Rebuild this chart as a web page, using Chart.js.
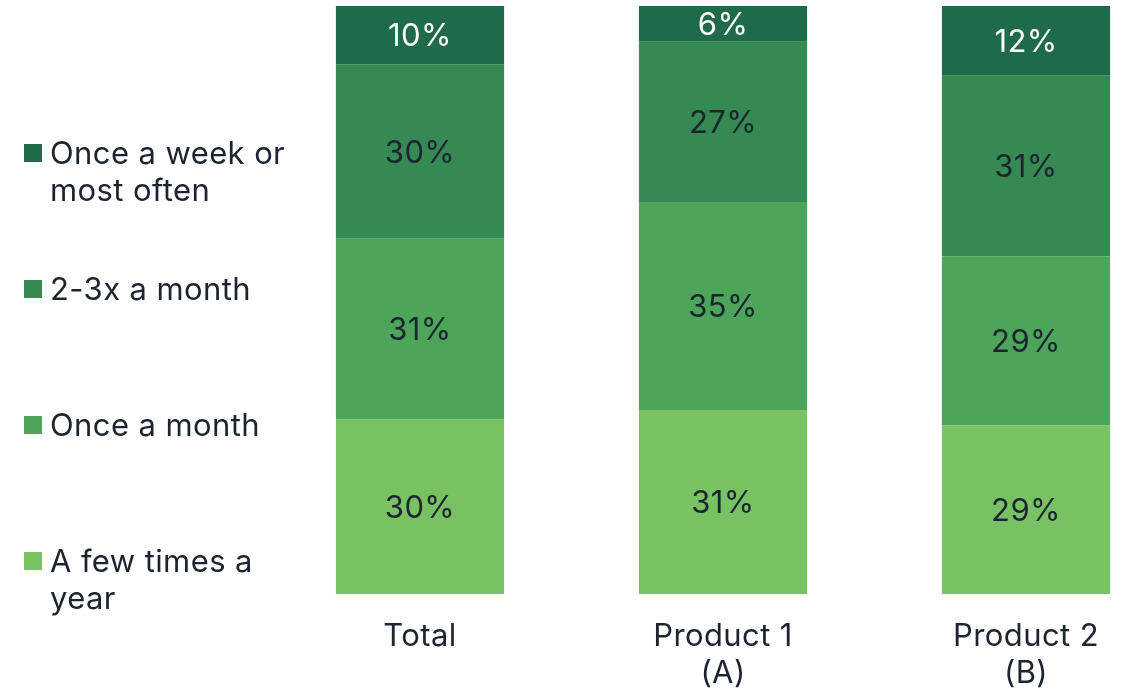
<!DOCTYPE html>
<html>
<head>
<meta charset="utf-8">
<script src="https://cdn.jsdelivr.net/npm/chart.js@4"></script>
<style>
  html, body { margin: 0; padding: 0; background: #fff; overflow: hidden; }
</style>
</head>
<body>
<canvas id="freqChart" width="1126" height="690"></canvas>
<script>
const categories = [["Total"], ["Product 1", "(A)"], ["Product 2", "(B)"]];

// bottom to top in each bar
const fewTimesYear = [30, 31, 29];
const onceMonth = [31, 35, 29];
const twoThreeMonth = [30, 27, 31];
const onceWeek = [10, 6, 12];

const seriesNames = [
  ["A few times a", "year"],
  ["Once a month"],
  ["2-3x a month"],
  ["Once a week or", "most often"]
];
const seriesColors = ["#78c263", "#4ca55a", "#348a52", "#1f6b49"];
const seriesValues = [fewTimesYear, onceMonth, twoThreeMonth, onceWeek];

const FONT = "Inter, 'Noto Sans', sans-serif";
const TEXT = "#1e2330";
const SIZE = 31;

// each bar is drawn as a share of its own column total
const columnTotals = categories.map((_, i) =>
  seriesValues.reduce((sum, s) => sum + s[i], 0)
);

const datasets = seriesValues.map((vals, k) => ({
  label: seriesNames[k].join(" "),
  data: vals.map((v, i) => v / columnTotals[i] * 100),
  raw: vals,
  backgroundColor: seriesColors[k],
  borderWidth: 0,
  barPercentage: 0.555,
  categoryPercentage: 1,
  clip: false
}));

// slight tracking on all text
const tracking = {
  id: "tracking",
  beforeDraw(chart) {
    chart.ctx.letterSpacing = "0.4px";
  }
};

const segmentLabels = {
  id: "segmentLabels",
  afterDatasetsDraw(chart) {
    const ctx = chart.ctx;
    ctx.save();
    ctx.font = SIZE + "px " + FONT;
    ctx.textAlign = "center";
    ctx.textBaseline = "middle";
    chart.data.datasets.forEach((ds, k) => {
      const meta = chart.getDatasetMeta(k);
      ctx.fillStyle = k === chart.data.datasets.length - 1 ? "#ffffff" : TEXT;
      meta.data.forEach((bar, i) => {
        ctx.fillText(ds.raw[i] + "%", bar.x, (bar.y + bar.base) / 2 + 2);
      });
    });
    ctx.restore();
  }
};

const sideLegend = {
  id: "sideLegend",
  afterDraw(chart) {
    const ctx = chart.ctx;
    const rowTop = 153;
    const rowStep = 136;
    const lineH = 37;
    ctx.save();
    ctx.font = SIZE + "px " + FONT;
    ctx.textBaseline = "middle";
    ctx.textAlign = "left";
    for (let r = 0; r < seriesNames.length; r++) {
      const k = seriesNames.length - 1 - r;
      const y = rowTop + r * rowStep;
      ctx.fillStyle = seriesColors[k];
      ctx.fillRect(24, y - 9, 18, 18);
      ctx.fillStyle = TEXT;
      seriesNames[k].forEach((line, j) => {
        ctx.fillText(line, 50, y + 2 + j * lineH);
      });
    }
    ctx.restore();
  }
};

new Chart(document.getElementById("freqChart"), {
  type: "bar",
  data: { labels: categories, datasets },
  options: {
    responsive: false,
    animation: false,
    layout: { padding: { left: 420, right: 100, top: 6, bottom: 0 } },
    plugins: {
      legend: { display: false },
      tooltip: { enabled: false }
    },
    scales: {
      x: {
        stacked: true,
        offset: false,
        grid: { display: false, drawTicks: false },
        border: { display: false },
        afterFit(scale) {
          scale.height = 96;
        },
        ticks: {
          color: TEXT,
          padding: 24,
          autoSkip: false,
          maxRotation: 0,
          font: { family: FONT, size: SIZE, lineHeight: 37 / SIZE }
        }
      },
      y: {
        stacked: true,
        display: false,
        min: 0,
        max: 100
      }
    }
  },
  plugins: [tracking, segmentLabels, sideLegend]
});
</script>
</body>
</html>
